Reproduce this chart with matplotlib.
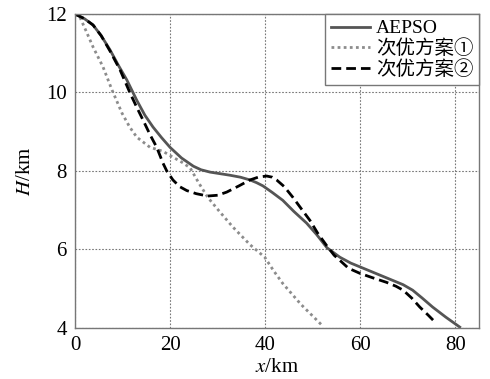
import matplotlib.pyplot as plt

plt.rcParams["font.family"] = ["Liberation Serif", "Noto Sans CJK SC"]
plt.rcParams["mathtext.fontset"] = "stix"

# AEPSO
x_aepso = [0, 2, 3.8, 5.5, 7.4, 9, 10.9, 13, 14.7, 16.4, 18.2, 20, 22.4, 24.9, 26.5, 28.4, 30.5,
           32.6, 34.8, 36.8, 38.2, 39.5, 41.5, 43.7, 46, 48.7, 50.8, 53, 55.7, 58, 60, 63, 66.8,
           69, 71, 73, 75.2, 78, 80.9]
h_aepso = [12, 11.88, 11.72, 11.45, 11.08, 10.72, 10.32, 9.8, 9.42, 9.12, 8.85, 8.6, 8.33, 8.12,
           8.03, 7.97, 7.93, 7.89, 7.84, 7.77, 7.7, 7.62, 7.45, 7.25, 6.97, 6.67, 6.38, 6.04, 5.8,
           5.65, 5.55, 5.4, 5.21, 5.1, 4.96, 4.76, 4.53, 4.27, 4.02]
# 次优方案①
x_s1 = [0, 1, 2.4, 3.8, 5.9, 7.8, 9.9, 11.5, 13, 15.8, 17.2, 18.5, 20.6, 22.5, 24.2, 26, 27.9,
        30.5, 33.2, 36.8, 39.9, 41.8, 43.7, 47.5, 51.9]
h_s1 = [12, 11.93, 11.55, 11.16, 10.65, 10.06, 9.47, 9.12, 8.86, 8.6, 8.55, 8.5, 8.35, 8.22, 8.08,
        7.7, 7.33, 6.95, 6.57, 6.12, 5.8, 5.45, 5.13, 4.6, 4.07]
# 次优方案②
x_s2 = [0, 2, 3.8, 5.5, 7.4, 9.5, 11.6, 13, 14.3, 15.8, 17.2, 18.5, 19.3, 20.6, 22, 23.5, 25.5,
        27.9, 30, 31.9, 34.5, 36.8, 38.5, 40.3, 41.5, 42.4, 44, 45.8, 47.5, 49.4, 51, 52.9, 54.5,
        55.7, 57.5, 59.9, 62.5, 65.5, 67.5, 69, 70.8, 72.5, 74.3, 76]
h_s2 = [12, 11.88, 11.72, 11.45, 11.05, 10.57, 9.98, 9.62, 9.3, 8.92, 8.6, 8.2, 8.0, 7.77, 7.6,
        7.5, 7.42, 7.36, 7.38, 7.46, 7.62, 7.77, 7.84, 7.87, 7.84, 7.77, 7.6, 7.33, 7.05, 6.74,
        6.42, 6.1, 5.85, 5.72, 5.52, 5.39, 5.28, 5.16, 5.06, 4.96, 4.76, 4.53, 4.32, 4.11]

fig, ax = plt.subplots(figsize=(4.9, 3.79), dpi=100)
fig.subplots_adjust(left=0.153, right=0.978, top=0.963, bottom=0.135)

ax.plot(x_aepso, h_aepso, color="#555555", lw=2, label="AEPSO", solid_joinstyle="round")
ax.plot(x_s1, h_s1, color="#8c8c8c", lw=2, ls=(0, (1, 1.2)), label="次优方案①")
ax.plot(x_s2, h_s2, color="black", lw=2, ls=(0, (3.5, 1.8)), label="次优方案②")

ax.set_xlim(0, 85)
ax.set_ylim(4, 12)
ax.set_xticks([0, 20, 40, 60, 80])
ax.set_yticks([4, 6, 8, 10, 12])
ax.tick_params(labelsize=15, direction="in", length=0, pad=6)
ax.grid(True, ls=(0, (1.5, 1.5)), color="#777777", lw=0.8)
for s in ax.spines.values():
    s.set_color("#777777")
    s.set_linewidth(1)

ax.set_xlabel("$x$/km", fontsize=15, labelpad=2)
ax.set_ylabel("$H$/km", fontsize=15, labelpad=8)

leg = ax.legend(loc="upper right", fontsize=14, borderaxespad=0, fancybox=False,
                handlelength=2.0, handletextpad=0.3, labelspacing=0.1, borderpad=0.3)
leg.get_frame().set_edgecolor("#777777")
leg.get_frame().set_linewidth(1)
leg.get_frame().set_alpha(1)

plt.savefig("out.png")
